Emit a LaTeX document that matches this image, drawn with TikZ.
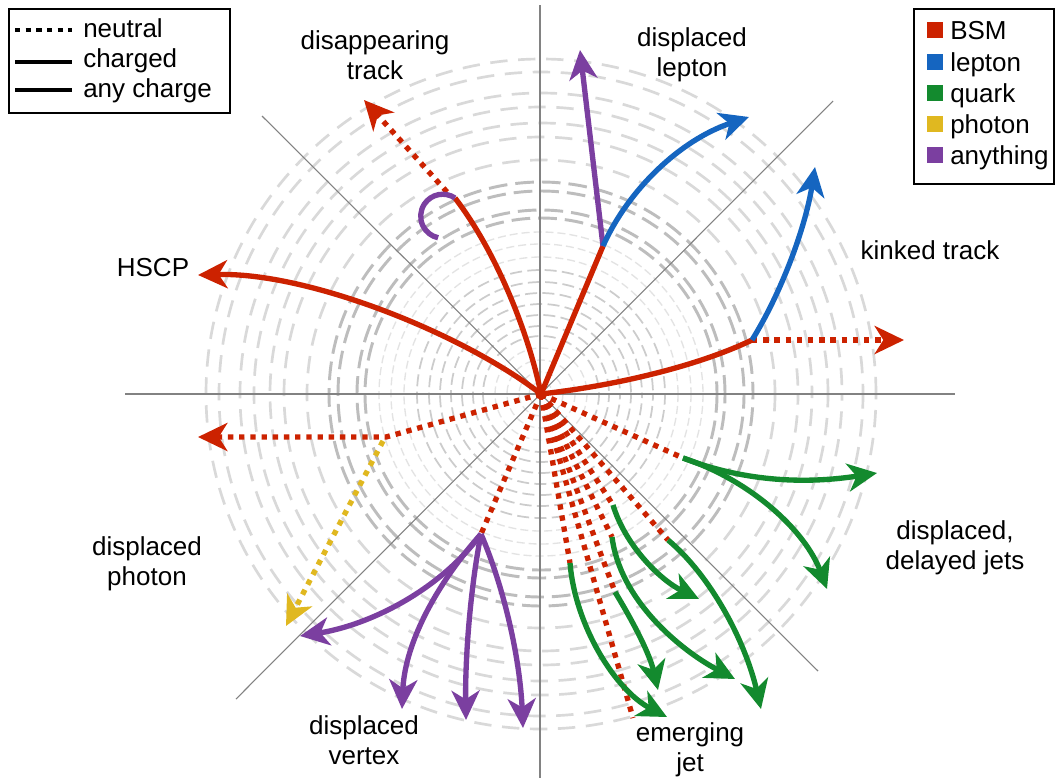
\documentclass[tikz,border=0pt]{standalone}
\usepackage{fontspec}
\setmainfont{Liberation Sans}
\usetikzlibrary{arrows.meta}
\definecolor{bsm}{RGB}{204,34,0}
\definecolor{lep}{RGB}{21,101,192}
\definecolor{qrk}{RGB}{19,138,46}
\definecolor{pho}{RGB}{224,184,32}
\definecolor{anyc}{RGB}{123,63,160}
\definecolor{axisc}{RGB}{130,130,130}
\tikzset{
  trk/.style={line width=4pt},
  neut/.style={line width=4pt, dash pattern=on 4pt off 4.4pt},
  tip/.style={-{Stealth[length=22pt,width=21pt,inset=6.5pt]}},
  lbl/.style={font=\fontsize{19.5}{22.5}\selectfont, align=center, inner sep=0pt},
  ltxt/.style={font=\fontsize{19.5}{22.5}\selectfont, inner sep=0pt, anchor=base west},
  axisln/.style={axisc, line width=0.8pt},
  ringA/.style={gray!22, line width=1.0pt, dash pattern=on 6pt off 3pt},
  ringB/.style={gray!40, line width=1.3pt, dash pattern=on 9pt off 4pt},
  ringC/.style={gray!52, line width=2.2pt, dash pattern=on 14pt off 6pt},
  ringD/.style={gray!30, line width=2pt, dash pattern=on 13pt off 8pt},
  sw/.style={minimum size=12pt, inner sep=0pt, draw=none}
}
\begin{document}
\begin{tikzpicture}[x=0.75pt,y=-0.75pt]
\useasboundingbox (0,0) rectangle (1056,779);
\fill[white] (0,0) rectangle (1056,779);
\coordinate (C) at (541,394);
% rings
\foreach \r in {12,22,34,46} \draw[ringA] (C) circle[radius=\r];
\foreach \r/\ph in {58/1,68/3,79/5,90/2,101/6,112/4,124/1} \draw[ringB, dash phase=\ph pt] (C) circle[radius=\r];
\foreach \r in {137,150,162} \draw[ringA] (C) circle[radius=\r];
\foreach \r/\ph in {176/0,184/7,203/3,212/10} \draw[ringC, dash phase=\ph pt] (C) circle[radius=\r];
\foreach \r/\ph in {234/0,257/5,271/10,287/3,301/8,322/2,335/9} \draw[ringD, dash phase=\ph pt] (C) circle[radius=\r];
% axes
\coordinate (AL) at (125,394); \coordinate (AR) at (955,394);
\coordinate (AT) at (540,5); \coordinate (AB) at (540,778);
\coordinate (ANW) at (262,116); \coordinate (ASE) at (818,671);
\coordinate (ANE) at (833,101); \coordinate (ASW) at (236,699);
\draw[axisln] (AL) -- (AR);
\draw[axisln] (AT) -- (AB);
\draw[axisln] (ANW) -- (ASE);
\draw[axisln] (ANE) -- (ASW);
% coordinates
\coordinate (H) at (198,275);
\coordinate (D1) at (455,198);
\coordinate (DS) at (447,192);
\coordinate (DT) at (364,100);
\coordinate (K1) at (603,246);
\coordinate (LP) at (580,50);
\coordinate (LB) at (749,117);
\coordinate (K2) at (752,340);
\coordinate (KB) at (815,167);
\coordinate (KR) at (904,340);
\coordinate (P1) at (386,437);
\coordinate (PT) at (198,437);
\coordinate (P1y) at (383,441);
\coordinate (PY) at (286,626);
\coordinate (V) at (481,534);
\coordinate (Va) at (300,636);
\coordinate (Vb) at (402,709);
\coordinate (Vc) at (466,720);
\coordinate (Vd) at (523,728);
\coordinate (J0) at (683,458);
\coordinate (J1) at (877,473);
\coordinate (J2) at (827,589);
\coordinate (EA) at (570,563); \coordinate (EAt) at (667,717);
\coordinate (EB) at (633,718);
\coordinate (EC) at (615,592); \coordinate (ECt) at (658,690);
\coordinate (ED) at (612,537); \coordinate (EDt) at (735,679);
\coordinate (EE) at (613,505); \coordinate (EEt) at (699,599);
\coordinate (EF) at (668,540); \coordinate (EFt) at (761,709);
% neutral BSM lines
\draw[neut,bsm] (C) -- (J0);
\draw[neut,bsm] (C) -- (EA);
\draw[neut,bsm] (C) -- (EB);
\draw[neut,bsm] (C) -- (EC);
\draw[neut,bsm] (C) -- (ED);
\draw[neut,bsm] (C) -- (EE);
\draw[neut,bsm] (C) -- (EF);
\draw[neut,bsm] (C) -- (V);
\draw[neut,bsm,tip] (C) -- (P1) -- (PT);
\draw[neut,pho,tip] (P1y) -- (PY);
\draw[neut,bsm,tip] (DS) -- (DT);
\draw[neut,bsm,tip] (K2) -- (KR);
% charged BSM
\draw[trk,bsm,tip] (C) .. controls (465,335) and (310,272) .. (H);
\draw[trk,bsm] (C) .. controls (528,330) and (495,250) .. (D1);
\draw[trk,anyc] (D1) arc[start angle=-56, end angle=-258, radius=22];
\draw[trk,bsm] (C) -- (K1);
\draw[trk,anyc,tip] (K1) -- (LP);
\draw[trk,lep,tip] (K1) .. controls (628,190) and (680,140) .. (LB);
\draw[trk,bsm] (C) .. controls (620,385) and (700,365) .. (K2);
\draw[trk,lep,tip] (K2) .. controls (780,295) and (805,230) .. (KB);
% displaced vertex
\draw[trk,anyc,tip] (V) .. controls (440,590) and (370,625) .. (Va);
\draw[trk,anyc,tip] (V) .. controls (440,580) and (405,640) .. (Vb);
\draw[trk,anyc,tip] (V) .. controls (470,590) and (465,660) .. (Vc);
\draw[trk,anyc,tip] (V) .. controls (505,590) and (520,660) .. (Vd);
% delayed jets
\draw[trk,qrk,tip] (J0) .. controls (740,480) and (800,485) .. (J1);
\draw[trk,qrk,tip] (J0) .. controls (750,480) and (805,530) .. (J2);
% emerging jet
\draw[trk,qrk,tip] (EA) .. controls (575,625) and (615,690) .. (EAt);
\draw[trk,qrk,tip] (EC) .. controls (635,625) and (650,655) .. (ECt);
\draw[trk,qrk,tip] (ED) .. controls (620,600) and (680,650) .. (EDt);
\draw[trk,qrk,tip] (EE) .. controls (625,545) and (660,580) .. (EEt);
\draw[trk,qrk,tip] (EF) .. controls (710,575) and (745,640) .. (EFt);
% labels
\node[lbl] (l1) at (375,55) {disappearing\\track};
\node[lbl] (l2) at (692,55) {displaced\\lepton};
\node[lbl] (l3) at (930,250) {kinked track};
\node[lbl] (l4) at (153,268) {HSCP};
\node[lbl] (l5) at (147,564) {displaced\\photon};
\node[lbl] (l6) at (364,740) {displaced\\vertex};
\node[lbl] (l7) at (690,750) {emerging\\jet};
\node[lbl] (l8) at (955,548) {displaced,\\delayed jets};
% left legend
\node[draw=black, line width=1.2pt, minimum width=221*0.75pt, minimum height=104*0.75pt, anchor=north west, inner sep=0pt] (leg1) at (8,8) {};
\coordinate (n1a) at (15,30); \coordinate (n1b) at (72,30);
\coordinate (n2a) at (15,62); \coordinate (n2b) at (72,62);
\coordinate (n3a) at (15,90); \coordinate (n3b) at (72,90);
\draw[black, line width=3pt, dash pattern=on 4pt off 4pt] (n1a) -- (n1b);
\draw[black, line width=3pt] (n2a) -- (n2b);
\draw[black, line width=3pt] (n3a) -- (n3b);
\node[ltxt] (t1) at (83,37) {neutral};
\node[ltxt] (t2) at (83,67) {charged};
\node[ltxt] (t3) at (83,97) {any charge};
% right legend
\node[draw=black, line width=1.2pt, minimum width=140*0.75pt, minimum height=175*0.75pt, anchor=north west, inner sep=0pt] (leg2) at (913,8) {};
\node[sw, fill=bsm] (s1) at (935,30) {};
\node[sw, fill=lep] (s2) at (935,62) {};
\node[sw, fill=qrk] (s3) at (935,93) {};
\node[sw, fill=pho] (s4) at (935,124) {};
\node[sw, fill=anyc] (s5) at (935,155) {};
\node[ltxt] (u1) at (950,39) {BSM};
\node[ltxt] (u2) at (950,71) {lepton};
\node[ltxt] (u3) at (950,102) {quark};
\node[ltxt] (u4) at (950,133) {photon};
\node[ltxt] (u5) at (950,164) {anything};
\end{tikzpicture}
\end{document}
